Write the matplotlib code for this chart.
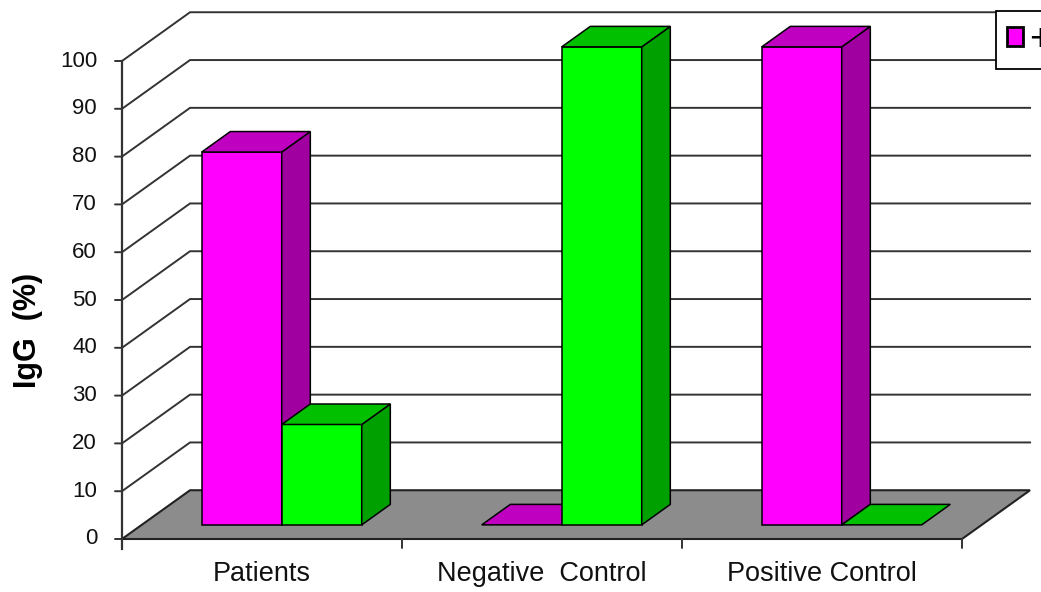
import matplotlib
matplotlib.use("Agg")
import matplotlib.pyplot as plt
from matplotlib.patches import Polygon, Patch

plt.rcParams["font.family"] = ["Liberation Sans", "DejaVu Sans"]

# data
categories = ["Patients", "Negative  Control", "Positive Control"]
pos_values = [78, 0, 100]   # magenta series
neg_values = [21, 100, 0]   # green series
y_ticks = list(range(0, 101, 10))

# colours: front face, top face, side face
MAGENTA = ("#FF00FF", "#C000C0", "#A000A0")
GREEN = ("#00FF00", "#00C000", "#00A000")
FLOOR = "#8C8C8C"
GRID = "#333333"

# oblique projection: a depth of 1 moves this far in data units
DX, DY = 0.243, 10.2
BAR_W = 0.2857
BAR_D0, BAR_D1 = 0.29, 0.71


def proj(x, y, d):
    return (x + d * DX, y + d * DY)


fig = plt.figure(figsize=(10.41, 5.92), dpi=100)
ax = fig.add_axes([0, 0, 1, 1])
# plot region: x 0..3 spans px 122..962, y 0..100 spans px 539..61
ax.set_xlim(-122 / 280, (1041 - 122) / 280)
ax.set_ylim(-53 / 4.78, (592 - 53) / 4.78)
ax.axis("off")

n = len(categories)

# floor
floor = [proj(0, 0, 0), proj(n, 0, 0), proj(n, 0, 1), proj(0, 0, 1)]
ax.add_patch(Polygon(floor, closed=True, facecolor=FLOOR, edgecolor="#222222", lw=1.5, zorder=1))

# side wall diagonals + back wall grid lines
for v in y_ticks[1:]:
    pts = [proj(0, v, 0), proj(0, v, 1), proj(n, v, 1)]
    ax.plot([p[0] for p in pts], [p[1] for p in pts], color=GRID, lw=1.4, zorder=2,
            solid_joinstyle="miter")

# left value axis and ticks
ax.plot([0, 0], [y_ticks[0] - 2, y_ticks[-1]], color=GRID, lw=1.6, zorder=3)
for v in y_ticks:
    ax.annotate("", xy=(0, v), xytext=(-7, 0), textcoords="offset pixels",
                arrowprops=dict(arrowstyle="-", color=GRID, lw=1.4, shrinkA=0, shrinkB=0))
    ax.annotate(str(v), xy=(0, v), xytext=(-25, 0), textcoords="offset pixels",
                ha="right", va="center", fontsize=16, color="#111111")

# category axis ticks below the floor
for i in range(n + 1):
    ax.annotate("", xy=(i, 0), xytext=(0, -9), textcoords="offset pixels",
                arrowprops=dict(arrowstyle="-", color=GRID, lw=1.4, shrinkA=0, shrinkB=0))
for i, name in enumerate(categories):
    ax.annotate(name, xy=(i + 0.5, 0), xytext=(0, -35), textcoords="offset pixels",
                ha="center", va="center", fontsize=19.5, color="#111111")


def bar3d(x0, h, colors):
    front, top, side = colors
    x1 = x0 + BAR_W
    kw = dict(closed=True, edgecolor="black", lw=1.1, zorder=5, joinstyle="miter")
    if h > 0:
        ax.add_patch(Polygon([proj(x0, 0, BAR_D0), proj(x1, 0, BAR_D0),
                              proj(x1, h, BAR_D0), proj(x0, h, BAR_D0)], facecolor=front, **kw))
        ax.add_patch(Polygon([proj(x1, 0, BAR_D0), proj(x1, 0, BAR_D1),
                              proj(x1, h, BAR_D1), proj(x1, h, BAR_D0)], facecolor=side, **kw))
    ax.add_patch(Polygon([proj(x0, h, BAR_D0), proj(x1, h, BAR_D0),
                          proj(x1, h, BAR_D1), proj(x0, h, BAR_D1)], facecolor=top, **kw))


for i in range(n):
    left = i + 0.5 - BAR_W
    bar3d(left, pos_values[i], MAGENTA)
    bar3d(left + BAR_W, neg_values[i], GREEN)

fig.text(28 / 1041, 1 - 330 / 592, "IgG  (%)", rotation=90, ha="center", va="center",
         fontsize=22, fontweight="bold")

# legend sits at the top right and runs past the figure edge
leg = fig.legend(handles=[Patch(facecolor=MAGENTA[0], edgecolor="black", lw=2.0)], labels=["+ve"],
                 loc="upper left", bbox_to_anchor=(996 / 1041, 1 - 11 / 592), fontsize=27,
                 frameon=True, fancybox=False, edgecolor="black", framealpha=1,
                 handlelength=0.43, handleheight=0.43, borderpad=0.29, handletextpad=0.17,
                 borderaxespad=0)
leg.get_frame().set_linewidth(1.3)

fig.savefig("out.png", dpi=100)
